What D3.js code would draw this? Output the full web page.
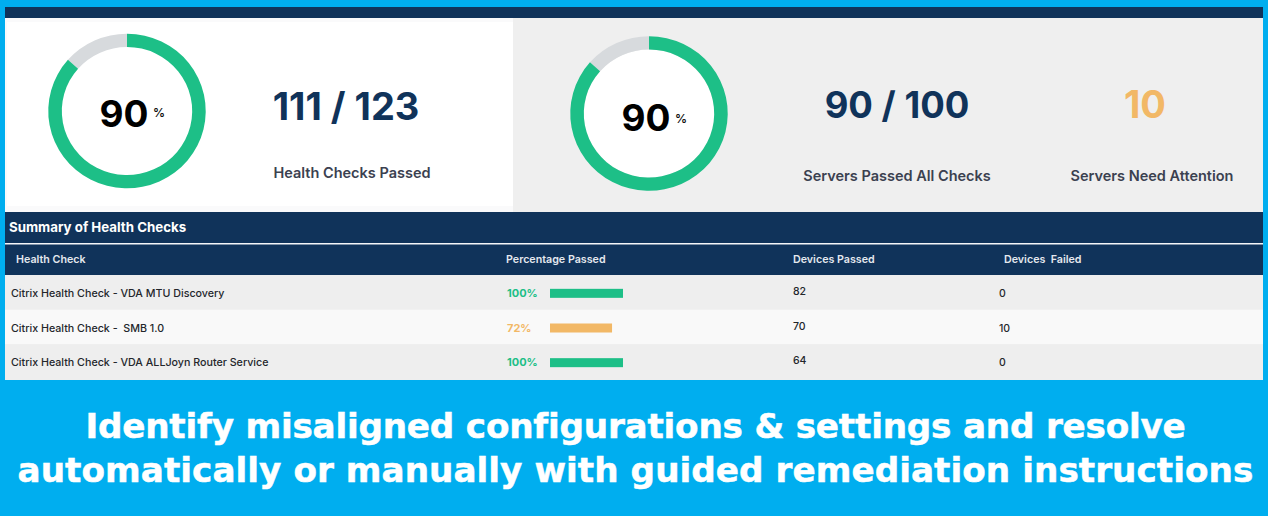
<!DOCTYPE html>
<html>
<head>
<meta charset="utf-8">
<script src="https://cdn.jsdelivr.net/npm/d3@7"></script>
<style>
  html, body { margin: 0; padding: 0; background: #00aeef; }
  svg { display: block; }
  text { font-family: Inter, "Noto Sans", sans-serif; }
  .caption { font-family: "DejaVu Sans", sans-serif; font-weight: 700; stroke: #fff; stroke-width: 0.5; }
</style>
</head>
<body>
<svg id="chart" width="1268" height="516"></svg>
<script>
// values
const ringLabels = [90, 90];
const ringFill = [86.5, 86.5];   // drawn share of the ring, it's a bit less than the label says
const statValues = ['111 / 123', '90 / 100', '10'];
const statLabels = ['Health Checks Passed', 'Servers Passed All Checks', 'Servers Need Attention'];

const columns = ['Health Check', 'Percentage Passed', 'Devices Passed', 'Devices  Failed'];
const checks = [
    'Citrix Health Check - VDA MTU Discovery',
    'Citrix Health Check -  SMB 1.0',
    'Citrix Health Check - VDA ALLJoyn Router Service'
];
const percentLabels = [100, 72, 100];
const barLengths = [100, 85, 100];   // the 72% bar is drawn longer than 72
const devicesPassed = [82, 70, 64];
const devicesFailed = [0, 10, 0];
const captionLines = [
    'Identify misaligned configurations & settings and resolve',
    'automatically or manually with guided remediation instructions'
];

const NAVY = '#10335a', GREEN = '#1dbf87', AMBER = '#f2b866', TRACK = '#d7dadd';

const svg = d3.select('#chart');

function rect(x, y, w, h, fill) {
    svg.append('rect').attr('x', x).attr('y', y).attr('width', w).attr('height', h).attr('fill', fill);
}

function label(str, x, y, size, weight, fill, anchor) {
    return svg.append('text')
        .attr('x', x).attr('y', y)
        .attr('font-size', size).attr('font-weight', weight)
        .attr('fill', fill).attr('text-anchor', anchor || 'start')
        .attr('xml:space', 'preserve')
        .style('white-space', 'pre')
        .text(str);
}

// top panels
rect(5, 7, 1258, 11, NAVY);
rect(5, 18, 508, 194, '#fafafb');
rect(7, 22, 506, 184, '#ffffff');
rect(513, 18, 750, 194, '#efefef');

// rings
const arc = d3.arc().innerRadius(65).outerRadius(78.5);
const ringScale = d3.scaleLinear().domain([0, 100]).range([0, 2 * Math.PI]);

function drawRing(cx, cy, value, text, dyText, dyPct) {
    const g = svg.append('g').attr('transform', `translate(${cx},${cy}) scale(1.003,0.985)`);
    g.append('circle').attr('r', 65).attr('fill', '#fff');
    g.append('path').attr('fill', TRACK)
        .attr('d', arc({startAngle: ringScale(value), endAngle: ringScale(100)}));
    g.append('path').attr('fill', GREEN)
        .attr('d', arc({startAngle: 0, endAngle: ringScale(value)}));
    label(text, cx - 3, cy + dyText, 37, 700, '#000', 'middle');
    label('%', cx + 32, cy + dyPct, 12, 600, '#111', 'middle');
}

drawRing(127, 111, ringFill[0], ringLabels[0], 16, 6);
drawRing(649, 113.5, ringFill[1], ringLabels[1], 17.5, 9);

// big numbers
const statX = [346, 897, 1145];
const statY = [120, 118, 118];
const statSize = [38, 36.5, 38];
const statColors = [NAVY, NAVY, AMBER];
statValues.forEach((d, i) => label(d, statX[i], statY[i], statSize[i], 700, statColors[i], 'middle'));

const statLabelX = [352, 897, 1152];
const statLabelY = [178, 181, 181];
statLabels.forEach((d, i) => label(d, statLabelX[i], statLabelY[i], 14.5, 600, '#3b4150', 'middle'));

// table
rect(5, 212, 1258, 168, '#eeeeee');
rect(5, 212, 1258, 33, NAVY);
rect(5, 243, 1258, 1.5, '#f4f6f8');
rect(5, 245, 1258, 30, NAVY);
label('Summary of Health Checks', 9, 232, 13.3, 700, '#fff');

const headX = [16, 506, 793, 1004];
columns.forEach((d, i) => label(d, headX[i], 263, 10.7, 600, '#e4e8ee'));

const rowY = d3.scaleBand().domain(checks).range([275, 379]);
const barX = d3.scaleLinear().domain([0, 100]).range([550, 623]);
const rowColors = ['#eeeeee', '#f9f9f9', '#eeeeee'];

checks.forEach((name, i) => {
    const y = rowY(name);
    const mid = y + rowY.bandwidth() / 2;
    const color = percentLabels[i] === 100 ? GREEN : AMBER;
    rect(5, y, 1258, rowY.bandwidth(), rowColors[i]);
    label(name, 11, mid + 4.5, 10.7, 500, '#23262b');
    label(percentLabels[i] + '%', 507, mid + 4.5, 11, 700, color);
    rect(barX(0), mid - 3.5, barX(barLengths[i]) - barX(0), 9, color);
    label(devicesPassed[i], 793, mid + 2.5, 10.5, 500, '#23262b');
    label(devicesFailed[i], 999, mid + 4.5, 10.5, 500, '#23262b');
});

// caption, spacing nudged so both lines end where the picture's do
const captionY = [438, 482];
const captionSpacing = [-0.2, 0.06];
captionLines.forEach((d, i) => {
    label(d, 635.5, captionY[i], 34.2, 700, '#fff', 'middle')
        .attr('class', 'caption')
        .attr('letter-spacing', captionSpacing[i]);
});
</script>
</body>
</html>
